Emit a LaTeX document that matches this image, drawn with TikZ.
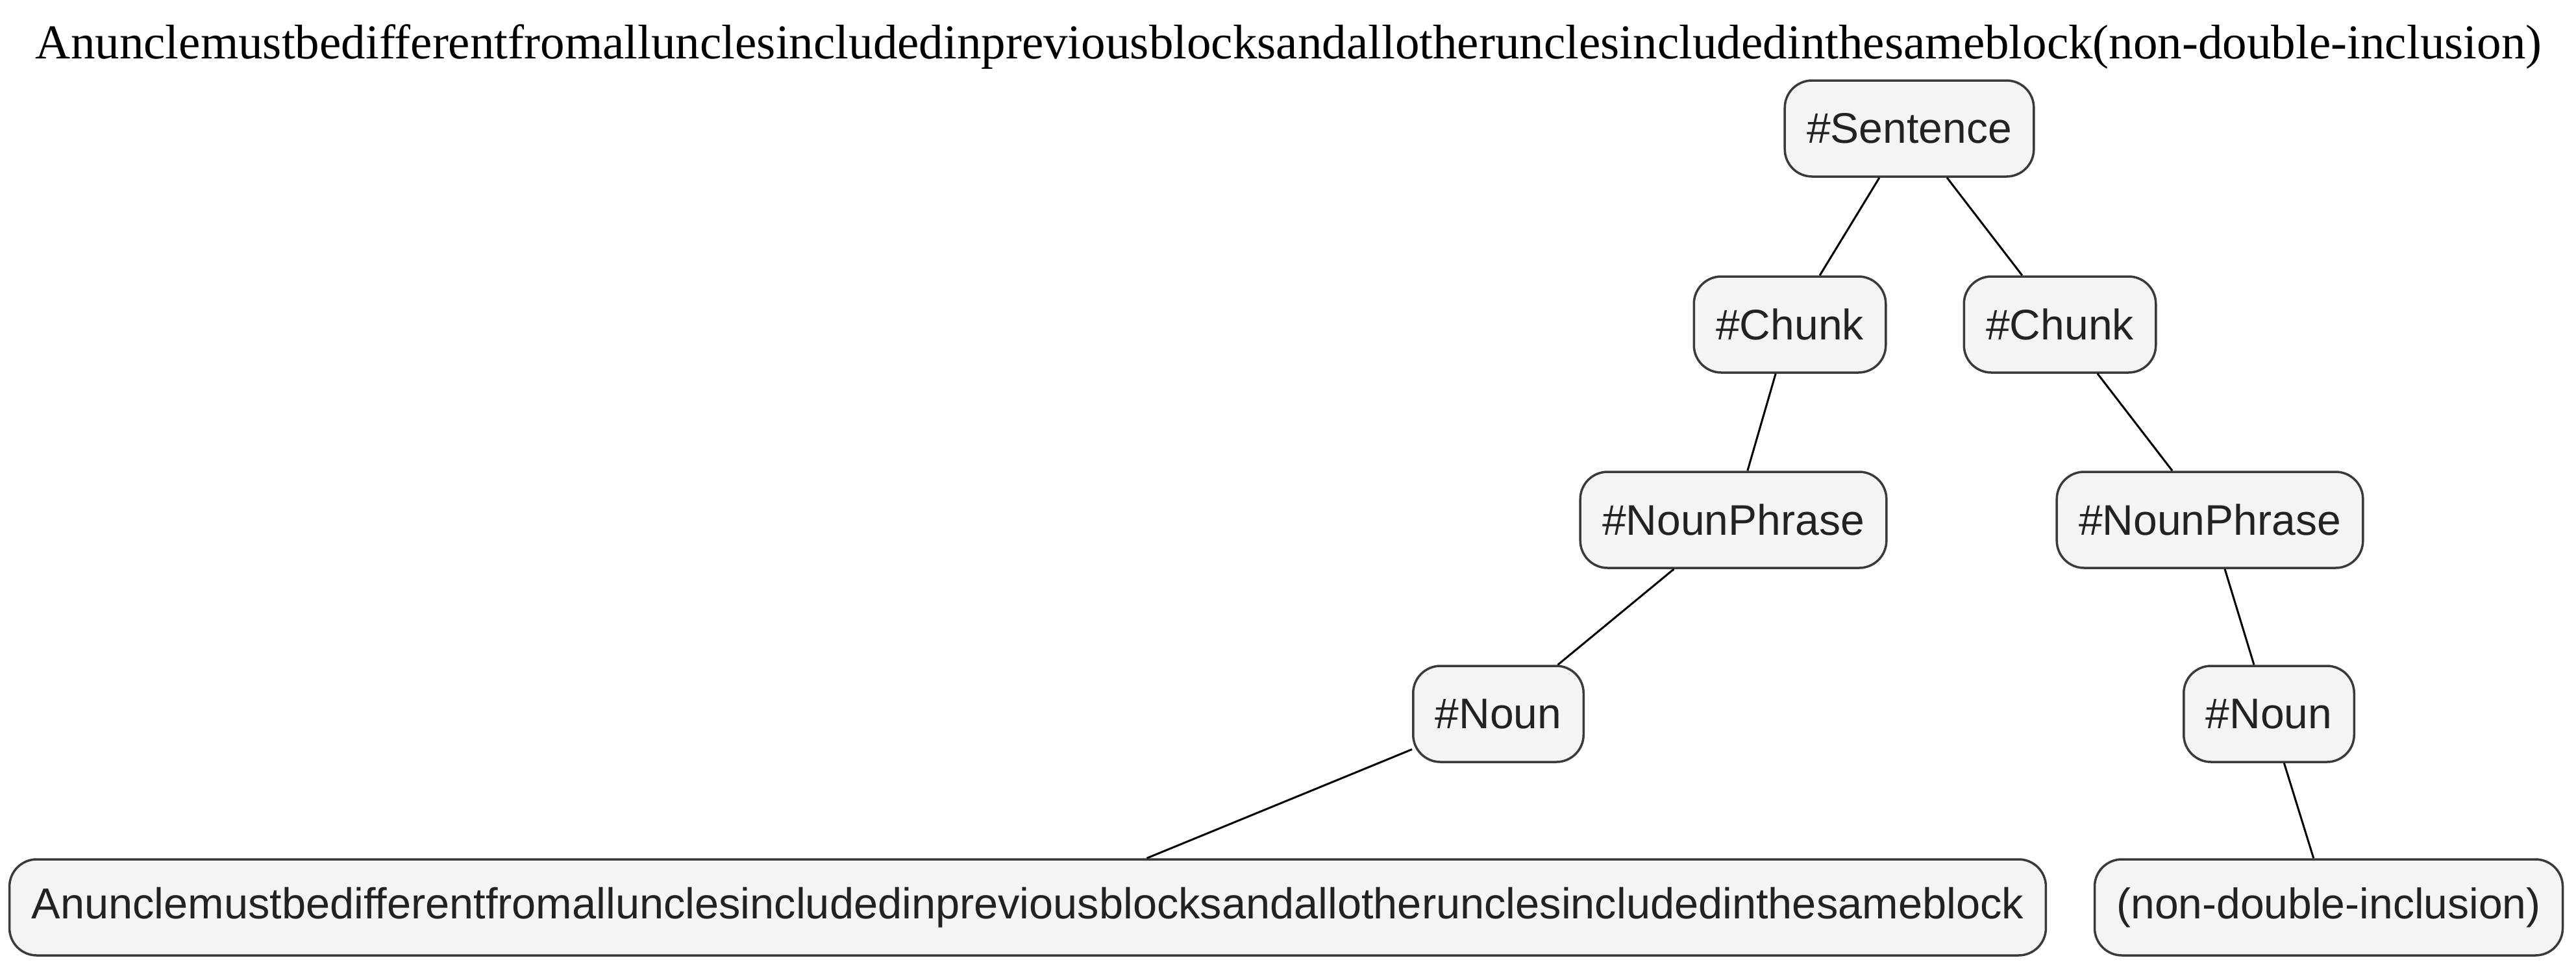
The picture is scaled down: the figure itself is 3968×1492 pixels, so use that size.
\documentclass[tikz,border=0pt]{standalone}
\usepackage{fontspec}
\setmainfont{Liberation Serif}
\newfontfamily\nodefont{Liberation Sans}
\definecolor{boxfill}{HTML}{F4F4F4}
\definecolor{boxline}{HTML}{3A3A3A}
\definecolor{txt}{HTML}{222222}
\begin{document}
\begin{tikzpicture}[x=1pt,y=-1pt,
  tnode/.style={draw=boxline, line width=3.5pt, fill=boxfill, rounded corners=42pt,
    minimum height=148pt, inner xsep=34pt, inner ysep=0pt, text=txt,
    font=\nodefont\fontsize{66}{79}\selectfont},
  edge/.style={draw=black, line width=3pt}]
\useasboundingbox (0,0) rectangle (3968,1492);
\node[font=\fontsize{75}{90}\selectfont, inner sep=0pt] (title) at (1985,72)
  {Anunclemustbedifferentfromallunclesincludedinpreviousblocksandallotherunclesincludedinthesameblock(non-double-inclusion)};
\node[tnode] (s) at (2941,198) {\#Sentence};
\node[tnode] (c1) at (2757,500) {\#Chunk};
\node[tnode] (c2) at (3173,500) {\#Chunk};
\node[tnode] (np1) at (2670,801) {\#NounPhrase};
\node[tnode] (np2) at (3404,801) {\#NounPhrase};
\node[tnode] (n1) at (2308,1100) {\#Noun};
\node[tnode] (n2) at (3495,1100) {\#Noun};
\node[tnode, minimum width=3132pt, font=\nodefont\fontsize{66.7}{80}\selectfont] (l1) at (1583,1398) {Anunclemustbedifferentfromallunclesincludedinpreviousblocksandallotherunclesincludedinthesameblock};
\node[tnode] (l2) at (3587,1398) {(non-double-inclusion)};
\draw[edge] (s) -- (c1);
\draw[edge] (s) -- (c2);
\draw[edge] (c1) -- (np1);
\draw[edge] (c2) -- (np2);
\draw[edge] (np1) -- (n1);
\draw[edge] (np2) -- (n2);
\draw[edge] (n1) -- (l1);
\draw[edge] (n2) -- (l2);
\end{tikzpicture}
\end{document}
